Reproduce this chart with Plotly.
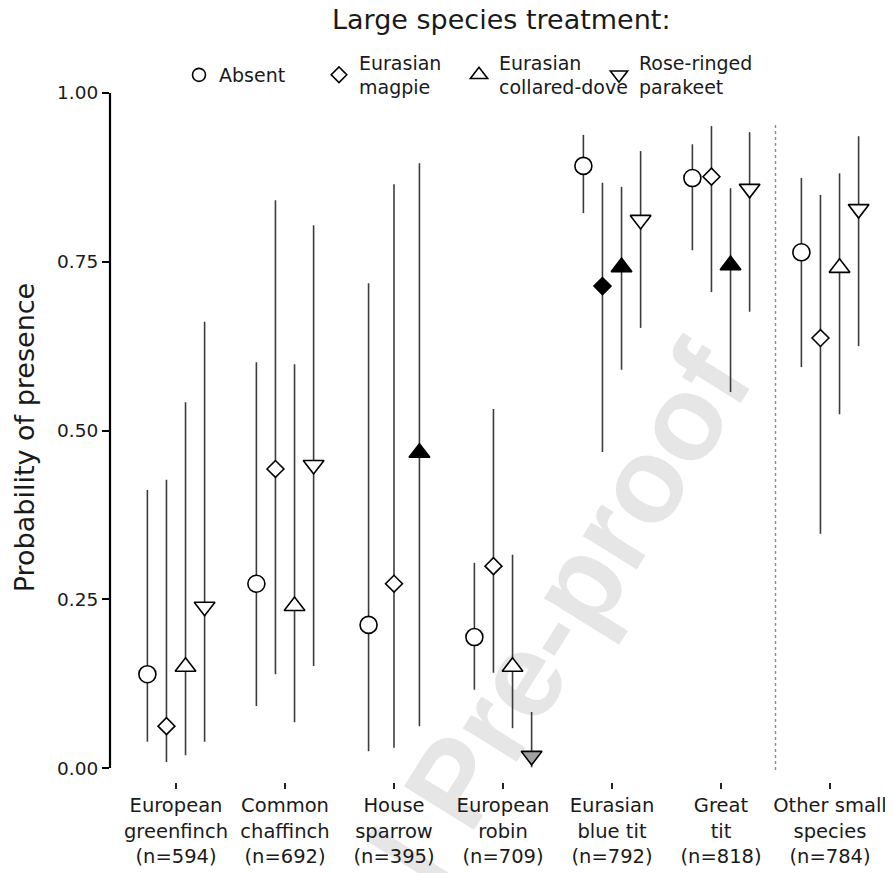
import plotly.graph_objects as go

# ---------------- data ----------------
species = [
    "European<br>greenfinch<br>(n=594)",
    "Common<br>chaffinch<br>(n=692)",
    "House<br>sparrow<br>(n=395)",
    "European<br>robin<br>(n=709)",
    "Eurasian<br>blue tit<br>(n=792)",
    "Great<br>tit<br>(n=818)",
    "Other small<br>species<br>(n=784)",
]

treatments = ["Absent", "Eurasian<br>magpie", "Eurasian<br>collared-dove", "Rose-ringed<br>parakeet"]

absent_est = [0.139, 0.273, 0.212, 0.194, 0.892, 0.874, 0.764]
absent_lo = [0.039, 0.092, 0.025, 0.116, 0.822, 0.767, 0.594]
absent_hi = [0.412, 0.601, 0.718, 0.304, 0.938, 0.924, 0.874]
absent_sig = ["ns", "ns", "ns", "ns", "ns", "ns", "ns"]

magpie_est = [0.062, 0.443, 0.273, 0.299, 0.714, 0.876, 0.637]
magpie_lo = [0.009, 0.139, 0.030, 0.141, 0.468, 0.705, 0.347]
magpie_hi = [0.427, 0.841, 0.865, 0.532, 0.867, 0.951, 0.849]
magpie_sig = ["ns", "ns", "ns", "ns", "sig", "ns", "ns"]

dove_est = [0.150, 0.240, 0.467, 0.150, 0.742, 0.745, 0.741]
dove_lo = [0.019, 0.068, 0.062, 0.059, 0.590, 0.557, 0.524]
dove_hi = [0.542, 0.598, 0.896, 0.316, 0.861, 0.859, 0.881]
dove_sig = ["ns", "ns", "sig", "ns", "sig", "sig", "ns"]

parakeet_est = [0.239, 0.449, None, 0.018, 0.812, 0.858, 0.828]
parakeet_lo = [0.039, 0.151, None, 0.001, 0.652, 0.676, 0.625]
parakeet_hi = [0.661, 0.804, None, 0.083, 0.914, 0.942, 0.936]
parakeet_sig = ["ns", "ns", None, "marg", "ns", "ns", "ns"]

y_ticks = [0.0, 0.25, 0.5, 0.75, 1.0]
y_ticklabels = ["0.00", "0.25", "0.50", "0.75", "1.00"]

# ---------------- styling ----------------
FONT = "DejaVu Sans"
TXT = "#1a1a1a"
fill_map = {"ns": "white", "sig": "black", "marg": "#a0a0a0"}
symbols = ["circle", "diamond", "triangle-up", "triangle-down"]
sizes = [17, 13, 18, 18]
legend_sizes = [13, 12, 15, 15]
legend_ids = ["legend", "legend2", "legend2", "legend2"]
legend_widths = [95, 95, 95, 130]
DODGE = 0.7

series = [
    (absent_est, absent_lo, absent_hi, absent_sig),
    (magpie_est, magpie_lo, magpie_hi, magpie_sig),
    (dove_est, dove_lo, dove_hi, dove_sig),
    (parakeet_est, parakeet_lo, parakeet_hi, parakeet_sig),
]


def dodge_offsets(n):
    w = DODGE / n
    return [-DODGE / 2 + w * (k + 0.5) for k in range(n)]


fig = go.Figure()

for k, (est, lo, hi, sig) in enumerate(series):
    xs, ys, up, dn, cols = [], [], [], [], []
    for i in range(len(species)):
        if est[i] is None:
            continue
        present = [j for j in range(len(series)) if series[j][0][i] is not None]
        off = dodge_offsets(len(present))[present.index(k)]
        xs.append(i + off)
        ys.append(est[i])
        up.append(hi[i] - est[i])
        dn.append(est[i] - lo[i])
        cols.append(fill_map[sig[i]])
    fig.add_trace(go.Scatter(
        x=xs, y=ys, mode="markers", name=treatments[k],
        marker=dict(symbol=symbols[k], size=sizes[k], color=cols,
                    line=dict(color="black", width=1.6)),
        error_y=dict(type="data", symmetric=False, array=up, arrayminus=dn,
                     width=0, color="#3c3c3c", thickness=1.6),
        showlegend=False,
    ))

# legend-only entries
for k in range(len(treatments)):
    fig.add_trace(go.Scatter(
        x=[None], y=[None], mode="markers", name=treatments[k],
        marker=dict(symbol=symbols[k], size=legend_sizes[k], color="white",
                    line=dict(color="black", width=1.6)),
        showlegend=True, legend=legend_ids[k], legendwidth=legend_widths[k],
        hoverinfo="skip",
    ))

# page offset of the browser (body margin) is compensated here
PAGE = 8
W, H = 893 - PAGE, 873 - PAGE
plot_l, plot_r, plot_t, plot_b = 110, 893, 93, 782   # in reference pixels
pw, ph = plot_r - plot_l, plot_b - plot_t


def px_to_paper(px, py):
    return (px - plot_l) / pw, (plot_b - py) / ph


shapes = []
# watermark (drawn below data)
cx, cy = 501, 816
x0p, y0p = px_to_paper(cx - 40, cy + 64)
x1p, y1p = px_to_paper(cx + 40, cy - 64)
shapes.append(dict(type="line", xref="paper", yref="paper", x0=x0p, y0=y0p, x1=x1p, y1=y1p,
                   line=dict(color="rgba(0,0,0,0)", width=0), layer="below",
                   label=dict(text="Journal Pre-proof", textangle=-58, textposition="middle",
                              font=dict(family="Liberation Sans", size=120, weight="bold",
                                        color="#e6e6e6"))))
# dotted separator
shapes.append(dict(type="line", xref="x", yref="y", x0=5.5, x1=5.5, y0=-0.003, y1=0.957,
                   line=dict(color="#8c8c8c", width=1.4, dash="dot"), layer="below"))
# y axis line
shapes.append(dict(type="line", xref="paper", yref="y", x0=0, x1=0, y0=0, y1=1,
                   line=dict(color="black", width=2.2)))

legend_common = dict(orientation="h", yanchor="middle", xanchor="left",
                     font=dict(family=FONT, size=19, color=TXT), itemsizing="trace",
                     entrywidth=95, bgcolor="rgba(0,0,0,0)", traceorder="normal")
lx1, ly = px_to_paper(179, 75)
lx2, _ = px_to_paper(319, 75)

fig.update_layout(
    width=W, height=H,
    margin=dict(l=plot_l - PAGE, r=W - (plot_r - PAGE), t=plot_t - PAGE, b=H - (plot_b - PAGE)),
    paper_bgcolor="white", plot_bgcolor="white",
    font=dict(family=FONT, color=TXT),
    shapes=shapes,
    showlegend=True,
    legend=dict(x=lx1, y=ly, **legend_common),
    legend2=dict(x=lx2, y=ly, **legend_common),
    annotations=[dict(text="Large species treatment:", xref="paper", yref="paper",
                      x=0.5, y=(plot_b - 19) / ph, xanchor="center", yanchor="middle",
                      showarrow=False, font=dict(family=FONT, size=27, color=TXT))],
)

fig.update_xaxes(range=[-0.6055, 6.578], tickmode="array", tickvals=list(range(len(species))),
                 ticktext=species, ticks="outside", ticklen=6, tickwidth=2, tickcolor="#222",
                 showline=False, showgrid=False, zeroline=False,
                 tickfont=dict(family=FONT, size=19.5, color=TXT))
fig.update_yaxes(range=[-0.0207, 1.0], tickmode="array", tickvals=y_ticks, ticktext=y_ticklabels,
                 ticks="outside", ticklen=7, tickwidth=2, tickcolor="black",
                 showline=False, showgrid=False, zeroline=False,
                 tickfont=dict(family=FONT, size=18.5, color=TXT),
                 title=dict(text="Probability of presence", standoff=14,
                            font=dict(family=FONT, size=27, color=TXT)))

fig.write_html("out.html")
